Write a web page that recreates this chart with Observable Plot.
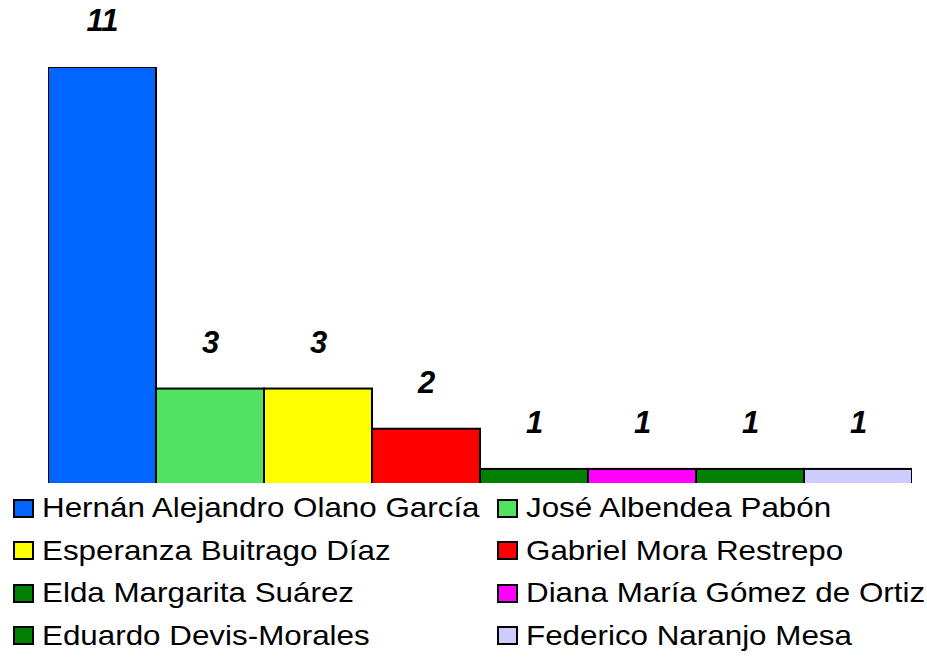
<!DOCTYPE html>
<html>
<head>
<meta charset="utf-8">
<script src="https://cdn.jsdelivr.net/npm/d3@7"></script>
<script src="https://cdn.jsdelivr.net/npm/@observablehq/plot@0.6"></script>
<style>
  html, body { margin: 0; padding: 0; background: #fff; }
  #wrap { width: 927px; height: 658px; position: relative; overflow: hidden; font-family: "Liberation Sans", Arial, sans-serif; }
  #legend { position: absolute; left: 0; top: 487px; width: 927px; }
  .row { height: 42.5px; position: relative; }
  .item { position: absolute; top: 0; height: 42.5px; display: flex; align-items: center; }
  .sw { width: 17px; height: 15px; border: 2px solid #000; box-sizing: content-box; }
  .lbl { display: inline-block; font-size: 28px; color: #000; transform: scaleX(1.12); transform-origin: left center; white-space: nowrap; margin-left: 8px; }
</style>
</head>
<body>
<div id="wrap"><div id="chart"></div><div id="legend"></div></div>
<script>
const names = [
  "Hernán Alejandro Olano García",
  "José Albendea Pabón",
  "Esperanza Buitrago Díaz",
  "Gabriel Mora Restrepo",
  "Elda Margarita Suárez",
  "Diana María Gómez de Ortiz",
  "Eduardo Devis-Morales",
  "Federico Naranjo Mesa"
];
const counts = [11, 3, 3, 2, 1, 1, 1, 1];
const palette = ["#0066ff", "#50e260", "#ffff00", "#ff0000", "#008000", "#ff00ff", "#008000", "#ccccff"];

const data = names.map((name, i) => ({name, count: counts[i], color: palette[i]}));
const yMin = 0.65;

const plot = Plot.plot({
  width: 927,
  height: 487,
  marginLeft: 48,
  marginRight: 15,
  marginTop: 67,
  marginBottom: 4,
  style: {fontFamily: "'Liberation Sans', Arial, sans-serif", background: "#fff", overflow: "visible"},
  x: {domain: names, padding: 0, axis: null},
  y: {domain: [yMin, 11], axis: null},
  marks: [
    Plot.barY(data, {x: "name", y1: 0, y2: "count", fill: "color", stroke: "#000", strokeWidth: 2, inset: 0, clip: true}),
    Plot.text(data, {x: "name", y: "count", text: d => String(d.count), dy: -46, lineAnchor: "middle", fontSize: 31, fontWeight: "bold", fontStyle: "italic", fill: "#000"})
  ]
});
document.getElementById("chart").appendChild(plot);

const legend = document.getElementById("legend");
for (let r = 0; r < names.length / 2; r++) {
  const row = document.createElement("div");
  row.className = "row";
  [0, 1].forEach(c => {
    const i = r * 2 + c;
    const item = document.createElement("div");
    item.className = "item";
    item.style.left = c === 0 ? "13px" : "497px";
    const sw = document.createElement("div");
    sw.className = "sw";
    sw.style.background = palette[i];
    const lbl = document.createElement("span");
    lbl.className = "lbl";
    lbl.textContent = names[i];
    item.appendChild(sw);
    item.appendChild(lbl);
    row.appendChild(item);
  });
  legend.appendChild(row);
}
</script>
</body>
</html>
